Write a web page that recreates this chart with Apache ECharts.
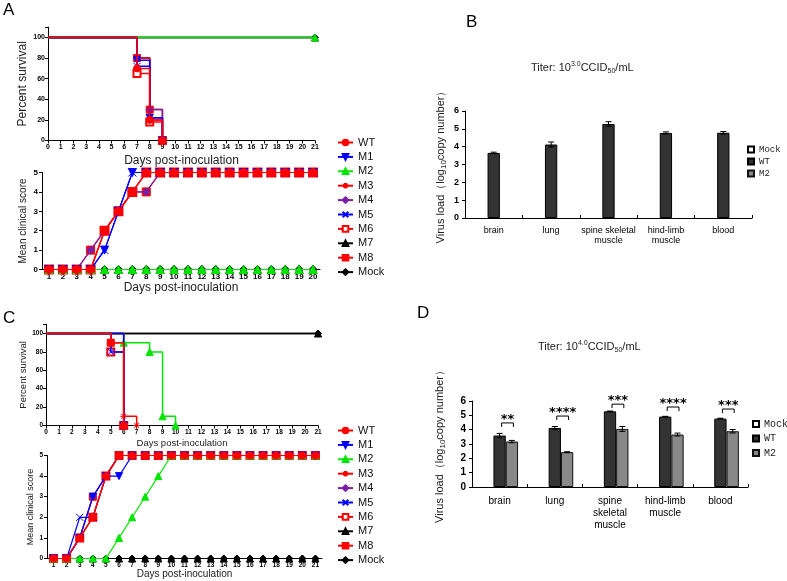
<!DOCTYPE html>
<html><head><meta charset="utf-8">
<script src="https://cdn.jsdelivr.net/npm/echarts@6/dist/echarts.min.js"></script>
<style>html,body{margin:0;padding:0;background:#fff}#c{width:787px;height:581px}</style>
</head><body><div id="c"></div>
<script>
// ---------------- DATA ----------------
const seriesNames = ['WT','M1','M2','M3','M4','M5','M6','M7','M8','Mock'];

// Panel A – survival: [day, percent]
const survA_WT   = [[0,100],[7,70],[8,20],[9,0]];
const survA_M1   = [[0,100],[7,78],[8,22],[9,0]];
const survA_M2   = [[0,100],[21,100]];
const survA_M3   = [[0,100],[7,80],[8,20],[9,0]];
const survA_M4   = [[0,100],[7,80],[8,30],[9,0]];
const survA_M5   = [[0,100],[7,72],[8,22],[9,0]];
const survA_M6   = [[0,100],[7,65],[8,18],[9,0]];
const survA_M7   = [[0,100],[21,100]];
const survA_M8   = [[0,100],[7,80],[8,30],[9,0]];
const survA_Mock = [[0,100],[21,100]];

// Panel A – clinical score, days 1..20
const daysA = ['1','2','3','4','5','6','7','8','9','10','11','12','13','14','15','16','17','18','19','20'];
const scoreA_WT   = [0,0,0,0,2,3,4,5,5,5,5,5,5,5,5,5,5,5,5,5];
const scoreA_M1   = [0,0,0,0,1,3,5,5,5,5,5,5,5,5,5,5,5,5,5,5];
const scoreA_M2   = [0,0,0,0,0,0,0,0,0,0,0,0,0,0,0,0,0,0,0,0];
const scoreA_M3   = [0,0,0,0,2,3,4,5,5,5,5,5,5,5,5,5,5,5,5,5];
const scoreA_M4   = [0,0,0,1,2,3,4,4,5,5,5,5,5,5,5,5,5,5,5,5];
const scoreA_M5   = [0,0,0,0,1,3,5,5,5,5,5,5,5,5,5,5,5,5,5,5];
const scoreA_M6   = [0,0,0,0,2,3,4,5,5,5,5,5,5,5,5,5,5,5,5,5];
const scoreA_M7   = [0,0,0,0,0,0,0,0,0,0,0,0,0,0,0,0,0,0,0,0];
const scoreA_M8   = [0,0,0,1,2,3,4,4,5,5,5,5,5,5,5,5,5,5,5,5];
const scoreA_Mock = [0,0,0,0,0,0,0,0,0,0,0,0,0,0,0,0,0,0,0,0];

// Panel C – survival: [day, percent]
const survC_WT   = [[0,100],[5,90],[6,0]];
const survC_M1   = [[0,100],[6,0]];
const survC_M2   = [[0,100],[6,90],[8,80],[9,10],[10,0]];
const survC_M3   = [[0,100],[6,10],[7,0]];
const survC_M4   = [[0,100],[6,0]];
const survC_M5   = [[0,100],[5,80],[6,0]];
const survC_M6   = [[0,100],[5,80],[6,0]];
const survC_M7   = [[0,100],[21,100]];
const survC_M8   = [[0,100],[5,90],[6,0]];
const survC_Mock = [[0,100],[21,100]];

// Panel C – clinical score, days 1..21
const daysC = ['1','2','3','4','5','6','7','8','9','10','11','12','13','14','15','16','17','18','19','20','21'];
const scoreC_WT   = [0,0,1,2,4,5,5,5,5,5,5,5,5,5,5,5,5,5,5,5,5];
const scoreC_M1   = [0,0,1,3,4,4,5,5,5,5,5,5,5,5,5,5,5,5,5,5,5];
const scoreC_M2   = [0,0,0,0,0,1,2,3,4,5,5,5,5,5,5,5,5,5,5,5,5];
const scoreC_M3   = [0,0,1,2,4,5,5,5,5,5,5,5,5,5,5,5,5,5,5,5,5];
const scoreC_M4   = [0,0,1,3,4,5,5,5,5,5,5,5,5,5,5,5,5,5,5,5,5];
const scoreC_M5   = [0,0,2,2,4,5,5,5,5,5,5,5,5,5,5,5,5,5,5,5,5];
const scoreC_M6   = [0,0,1,2,4,5,5,5,5,5,5,5,5,5,5,5,5,5,5,5,5];
const scoreC_M7   = [0,0,0,0,0,0,0,0,0,0,0,0,0,0,0,0,0,0,0,0,0];
const scoreC_M8   = [0,0,1,3,4,5,5,5,5,5,5,5,5,5,5,5,5,5,5,5,5];
const scoreC_Mock = [0,0,0,0,0,0,0,0,0,0,0,0,0,0,0,0,0,0,0,0,0];

// Panel B – virus load (titer 10^3.0)
const tissuesB = ['brain','lung','spine skeletal\nmuscle','hind-limb\nmuscle','blood'];
const loadB_WT = [3.65, 4.12, 5.27, 4.77, 4.78];
const errB_WT  = [0.04, 0.14, 0.13, 0.06, 0.07];

// Panel D – virus load (titer 10^4.0)
const tissuesD = ['brain','lung','spine\nskeletal\nmuscle','hind-limb\nmuscle','blood'];
const loadD_WT = [3.59, 4.12, 5.28, 4.91, 4.77];
const errD_WT  = [0.15, 0.10, 0.02, 0.02, 0.03];
const loadD_M2 = [3.17, 2.43, 4.05, 3.66, 3.89];
const errD_M2  = [0.08, 0.03, 0.17, 0.10, 0.12];
const sigTextD   = ['**','****','***','****','***'];
const sigHeightD = [4.47, 4.95, 5.78, 5.58, 5.44];

// ---------------- STYLE ----------------
const F = 'Liberation Sans, Arial, sans-serif';
const STAR = 'path://M5,0L5,10M0,5L10,5M1.5,1.5L8.5,8.5M8.5,1.5L1.5,8.5';
const CROSS = 'path://M0,0L10,10M10,0L0,10';
const STY = {
  WT:  {color:'#ff0000', symbol:'circle'},
  M1:  {color:'#0000ff', symbol:'triangle', rotate:180},
  M2:  {color:'#00e600', symbol:'triangle'},
  M3:  {color:'#ff0000', symbol:STAR},
  M4:  {color:'#7a1fa8', symbol:'diamond'},
  M5:  {color:'#0000ff', symbol:CROSS},
  M6:  {color:'#ff0000', symbol:'emptyRect'},
  M7:  {color:'#000000', symbol:'triangle'},
  M8:  {color:'#ff0000', symbol:'rect'},
  Mock:{color:'#000000', symbol:'diamond'}
};
// back-to-front drawing order
const DRAW_ORDER = ['M7','Mock','M8','M6','M5','M4','M3','M2','M1','WT'];
const survA = {WT:survA_WT,M1:survA_M1,M2:survA_M2,M3:survA_M3,M4:survA_M4,M5:survA_M5,M6:survA_M6,M7:survA_M7,M8:survA_M8,Mock:survA_Mock};
const survC = {WT:survC_WT,M1:survC_M1,M2:survC_M2,M3:survC_M3,M4:survC_M4,M5:survC_M5,M6:survC_M6,M7:survC_M7,M8:survC_M8,Mock:survC_Mock};
const scoreA = {WT:scoreA_WT,M1:scoreA_M1,M2:scoreA_M2,M3:scoreA_M3,M4:scoreA_M4,M5:scoreA_M5,M6:scoreA_M6,M7:scoreA_M7,M8:scoreA_M8,Mock:scoreA_Mock};
const scoreC = {WT:scoreC_WT,M1:scoreC_M1,M2:scoreC_M2,M3:scoreC_M3,M4:scoreC_M4,M5:scoreC_M5,M6:scoreC_M6,M7:scoreC_M7,M8:scoreC_M8,Mock:scoreC_Mock};

function baseLine(name, gi, size, lw){
  const s = STY[name];
  return {
    name, type:'line', xAxisIndex:gi, yAxisIndex:gi, clip:false, animation:false,
    z: 10 + DRAW_ORDER.indexOf(name),
    symbol:s.symbol, symbolRotate:s.rotate||0, symbolSize:size,
    lineStyle:{color:s.color, width:lw},
    itemStyle:{color:s.color, borderColor:s.color, borderWidth: s.symbol==='emptyRect'?1.5:1},
    emphasis:{disabled:true}
  };
}
function survSeries(name, pts, gi, size){
  const o = baseLine(name, gi, size, 1.5);
  o.step = 'end';
  o.data = pts.map((p,i)=> i===0 ? {value:p, symbol:'none'} : p);
  return o;
}
function scoreSeries(name, vals, gi, size){
  const o = baseLine(name, gi, size, 1.2);
  o.data = vals;
  return o;
}

const axisLineBlack = {show:true, lineStyle:{color:'#000', width:1}};
function survX(gi, fs, nameFs, nameGap){
  return {gridIndex:gi, type:'value', min:0, max:21, interval:1,
    name:'Days post-inoculation', nameLocation:'middle', nameGap,
    nameTextStyle:{fontSize:nameFs, fontFamily:F, color:'#222'},
    axisLine:axisLineBlack, axisTick:{show:true, length:3, lineStyle:{color:'#000'}},
    axisLabel:{fontSize:fs, fontFamily:F, color:'#000', margin:3, fontWeight:'bold'},
    splitLine:{show:false}};
}
function survY(gi, fs, nameFs, nameGap){
  return {gridIndex:gi, type:'value', min:0, max:110, interval:20,
    name:'Percent survival', nameLocation:'middle', nameGap,
    nameTextStyle:{fontSize:nameFs, fontFamily:F, color:'#222'},
    axisLine:axisLineBlack, axisTick:{show:true, length:3, lineStyle:{color:'#000'}},
    axisLabel:{fontSize:fs, fontFamily:F, color:'#000', margin:3, fontWeight:'bold',
      formatter:v=> v>100 ? '' : String(v)},
    splitLine:{show:false}};
}
function scoreX(gi, days, fs, nameFs, nameGap){
  return {gridIndex:gi, type:'category', data:days, boundaryGap:true,
    name:'Days post-inoculation', nameLocation:'middle', nameGap,
    nameTextStyle:{fontSize:nameFs, fontFamily:F, color:'#222'},
    axisLine:axisLineBlack, axisTick:{show:true, alignWithLabel:true, length:2, lineStyle:{color:'#000'}},
    axisLabel:{fontSize:fs, fontFamily:F, color:'#000', margin:3, interval:0, fontWeight:'bold'},
    splitLine:{show:false}};
}
function scoreY(gi, fs, nameFs, nameGap){
  return {gridIndex:gi, type:'value', min:0, max:5, interval:1,
    name:'Mean clinical score', nameLocation:'middle', nameGap,
    nameTextStyle:{fontSize:nameFs, fontFamily:F, color:'#222'},
    axisLine:axisLineBlack, axisTick:{show:true, length:3, lineStyle:{color:'#000'}},
    axisLabel:{fontSize:fs, fontFamily:F, color:'#000', margin:4, fontWeight:'bold'},
    splitLine:{show:false}};
}
const subRich = (fs)=>({
  a:{fontSize:fs, fontFamily:F, color:'#222', lineHeight:fs+3},
  s:{fontSize:fs-3, fontFamily:F, color:'#222', lineHeight:fs-2, verticalAlign:'bottom'}
});
function barX(gi, cats, fs, lh){
  return {gridIndex:gi, type:'category', data:cats,
    axisLine:axisLineBlack, axisTick:{show:true, inside:true, length:3, lineStyle:{color:'#000'}},
    axisLabel:{fontSize:fs, fontFamily:F, color:'#000', margin:8, lineHeight:lh, interval:0},
    splitLine:{show:false}};
}
function barY(gi, fs, nameGap){
  return {gridIndex:gi, type:'value', min:0, max:6, interval:1,
    name:'{a|Virus load（log}{s|10}{a|copy number）}', nameLocation:'middle', nameGap,
    nameTextStyle:{rich:subRich(11)},
    axisLine:axisLineBlack, axisTick:{show:true, length:3, lineStyle:{color:'#000'}},
    axisLabel:{fontSize:fs, fontFamily:F, color:'#000', margin:6, fontWeight:'bold'},
    splitLine:{show:false}};
}

const BAR_W = 12.3;
const barStyle = {
  'bar:Mock':{color:'#ffffff', borderColor:'#000', borderWidth:1},
  'bar:WT':{color:'#333333', borderColor:'#000', borderWidth:1},
  'bar:M2':{color:'#888888', borderColor:'#111', borderWidth:1}
};
function barSeries(name, gi, vals){
  return {name, type:'bar', xAxisIndex:gi, yAxisIndex:gi, barWidth:BAR_W, barGap:'0%',
    itemStyle:barStyle[name], data:vals, animation:false, emphasis:{disabled:true}};
}
function errSeries(gi, vals, errs, slot){
  return {type:'custom', xAxisIndex:gi, yAxisIndex:gi, silent:true, z:5, animation:false,
    data: vals.map((v,i)=>[i, v, errs[i]]),
    encode:{x:0, y:1},
    renderItem(params, api){
      const i = api.value(0), v = api.value(1), e = api.value(2);
      const t = api.coord([i, v+e]), b = api.coord([i, v-e]);
      const x = t[0] + slot*BAR_W, c = 3;
      const st = {stroke:'#000', lineWidth:1};
      return {type:'group', children:[
        {type:'line', shape:{x1:x, y1:t[1], x2:x, y2:b[1]}, style:st},
        {type:'line', shape:{x1:x-c, y1:t[1], x2:x+c, y2:t[1]}, style:st},
        {type:'line', shape:{x1:x-c, y1:b[1], x2:x+c, y2:b[1]}, style:st}
      ]};
    }};
}
const sigSeries = {type:'custom', xAxisIndex:5, yAxisIndex:5, silent:true, z:6, animation:false,
  data: sigHeightD.map((h,i)=>[i,h]), encode:{x:0, y:1},
  renderItem(params, api){
    const i = api.value(0), h = api.value(1);
    const p = api.coord([i, h]);
    const x0 = p[0]+2, x1 = p[0]+BAR_W+1.5, y = p[1];
    return {type:'group', children:[
      {type:'polyline', shape:{points:[[x0,y+4],[x0,y],[x1,y],[x1,y+4]]}, style:{stroke:'#000', lineWidth:1, fill:null}},
      {type:'text', x:(x0+x1)/2, y:y+3, style:{text:sigTextD[i], align:'center', verticalAlign:'bottom',
        fontSize:13, fontWeight:'bold', fontFamily:'DejaVu Sans, sans-serif', fill:'#000'}}
    ]};
  }};

// ---------------- OPTION ----------------
const series = [];
DRAW_ORDER.forEach(n=>series.push(survSeries(n, survA[n], 0, 7)));
DRAW_ORDER.forEach(n=>series.push(scoreSeries(n, scoreA[n], 1, 8)));
DRAW_ORDER.forEach(n=>series.push(survSeries(n, survC[n], 2, 7)));
DRAW_ORDER.forEach(n=>series.push(scoreSeries(n, scoreC[n], 3, 7)));
series.push(barSeries('bar:Mock', 4, []));
series.push(barSeries('bar:WT', 4, loadB_WT));
series.push(barSeries('bar:M2', 4, []));
series.push(errSeries(4, loadB_WT, errB_WT, 0));
series.push(barSeries('bar:Mock', 5, []));
series.push(barSeries('bar:WT', 5, loadD_WT));
series.push(barSeries('bar:M2', 5, loadD_M2));
series.push(errSeries(5, loadD_WT, errD_WT, 0));
series.push(errSeries(5, loadD_M2, errD_M2, 1));
series.push(sigSeries);

const letterStyle = {fontSize:17, fontWeight:'normal', fontFamily:F, color:'#000'};
const titerRich = {
  t:{fontSize:11, fontFamily:F, fontWeight:'normal', color:'#222', lineHeight:14},
  sup:{fontSize:7, fontFamily:F, fontWeight:'normal', color:'#222', lineHeight:8, verticalAlign:'top'},
  sub:{fontSize:7, fontFamily:F, fontWeight:'normal', color:'#222', lineHeight:8, verticalAlign:'bottom'}
};
const lineLegend = (top)=>({orient:'vertical', left:337, top, padding:0, itemWidth:15, itemHeight:7, itemGap:3.4,
  selectedMode:false, data:seriesNames, textStyle:{fontSize:11, fontFamily:F, color:'#111'}});
const barLegend = (left, top, fs, gap)=>({orient:'vertical', left, top, padding:0, icon:'rect', itemWidth:6, itemHeight:6,
  itemGap:gap, selectedMode:false, data:['bar:Mock','bar:WT','bar:M2'], formatter:n=>n.replace('bar:',''),
  textStyle:{fontSize:fs, fontFamily:'Liberation Mono, DejaVu Sans Mono, monospace', color:'#222'}});

const option = {
  backgroundColor:'#ffffff',
  animation:false,
  title:[
    {text:'A', left:3, top:2, padding:0, textStyle:letterStyle},
    {text:'B', left:466, top:14, padding:0, textStyle:letterStyle},
    {text:'C', left:3, top:310, padding:0, textStyle:letterStyle},
    {text:'D', left:417, top:305, padding:0, textStyle:letterStyle},
    {text:'{t|Titer: 10}{sup|3.0}{t|CCID}{sub|50}{t|/mL}', left:531, top:61, padding:0, textStyle:{fontWeight:'normal', rich:titerRich}},
    {text:'{t|Titer: 10}{sup|4.0}{t|CCID}{sub|50}{t|/mL}', left:538, top:340, padding:0, textStyle:{fontWeight:'normal', rich:titerRich}}
  ],
  legend:[lineLegend(137), lineLegend(425), barLegend(747, 145, 9, 3), barLegend(752, 419, 10, 4.5)],
  grid:[
    {left:48, top:27.2, width:267, height:113.3},
    {left:42, top:172.5, width:278, height:97},
    {left:46, top:324.3, width:272, height:101.2},
    {left:47, top:455.5, width:275, height:103},
    {left:465, top:111, width:287, height:107},
    {left:472, top:401, width:276, height:86}
  ],
  xAxis:[
    survX(0, 7, 12, 14),
    scoreX(1, daysA, 8, 12, 12),
    survX(2, 6.5, 9.5, 13),
    scoreX(3, daysC, 6.5, 10, 10),
    barX(4, tissuesB, 9, 10),
    barX(5, tissuesD, 10, 12)
  ],
  yAxis:[
    survY(0, 7, 12, 19),
    scoreY(1, 8, 10, 14),
    survY(2, 6.5, 9.5, 14),
    scoreY(3, 6.5, 9, 12),
    barY(4, 9, 17),
    barY(5, 10, 25)
  ],
  series
};
const chart = echarts.init(document.getElementById('c'));
chart.setOption(option);
</script>
</body></html>
